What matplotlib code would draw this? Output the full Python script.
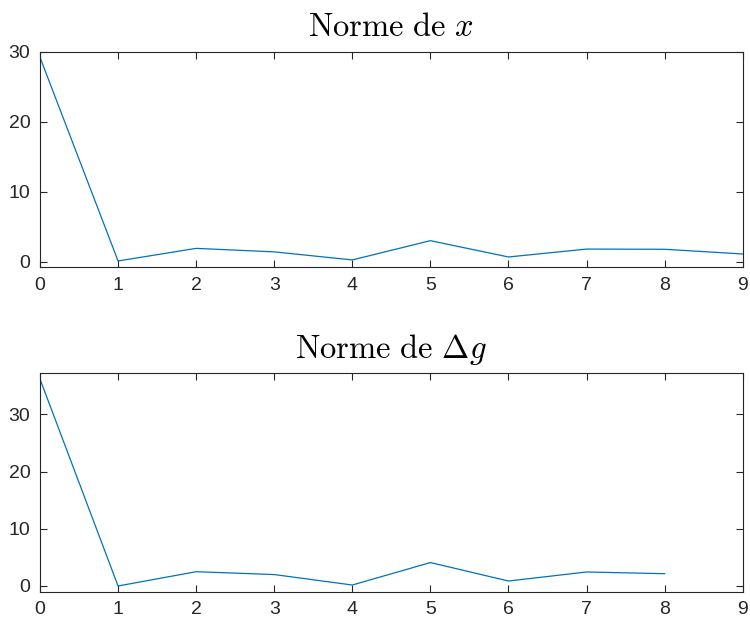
import numpy as np
import matplotlib
matplotlib.use('Agg')
import matplotlib.pyplot as plt

plt.rcParams['mathtext.fontset'] = 'cm'
plt.rcParams['font.family'] = ['Liberation Sans', 'DejaVu Sans']

# iterations
iters_x = [0, 1, 2, 3, 4, 5, 6, 7, 8, 9]
norme_x = [29.2, 0.1, 1.9, 1.4, 0.25, 3.0, 0.67, 1.8, 1.77, 1.1]

iters_g = [0, 1, 2, 3, 4, 5, 6, 7, 8]
norme_dg = [36.2, 0.0, 2.5, 2.0, 0.17, 4.1, 0.87, 2.45, 2.15]

x_ticks = [0, 1, 2, 3, 4, 5, 6, 7, 8, 9]
y_ticks = [0, 10, 20, 30]

line_col = '#0072BD'
axis_col = '#262626'

fig = plt.figure(figsize=(7.5, 6.22), dpi=100)
ax1 = fig.add_axes([0.0533, 0.5703, 0.937, 0.3466])
ax2 = fig.add_axes([0.0533, 0.0487, 0.937, 0.3511])


def style(ax, ylim, title):
    ax.set_xlim(0, 9)
    ax.set_ylim(*ylim)
    ax.set_xticks(x_ticks)
    ax.set_yticks(y_ticks)
    ax.tick_params(direction='in', length=5, width=0.8, colors=axis_col,
                   labelsize=14, top=True, right=True, pad=7)
    for s in ax.spines.values():
        s.set_color(axis_col)
        s.set_linewidth(0.8)
    ax.set_title(title, fontsize=23.5, pad=11, color='black')


ax1.plot(iters_x, norme_x, color=line_col, lw=0.9)
style(ax1, (-0.8, 29.6), r'$\mathrm{Norme\ de\ }x$')

ax2.plot(iters_g, norme_dg, color=line_col, lw=0.9)
style(ax2, (-1.0, 37.2), r'$\mathrm{Norme\ de\ }\Delta g$')

plt.savefig('out.png', dpi=100)
